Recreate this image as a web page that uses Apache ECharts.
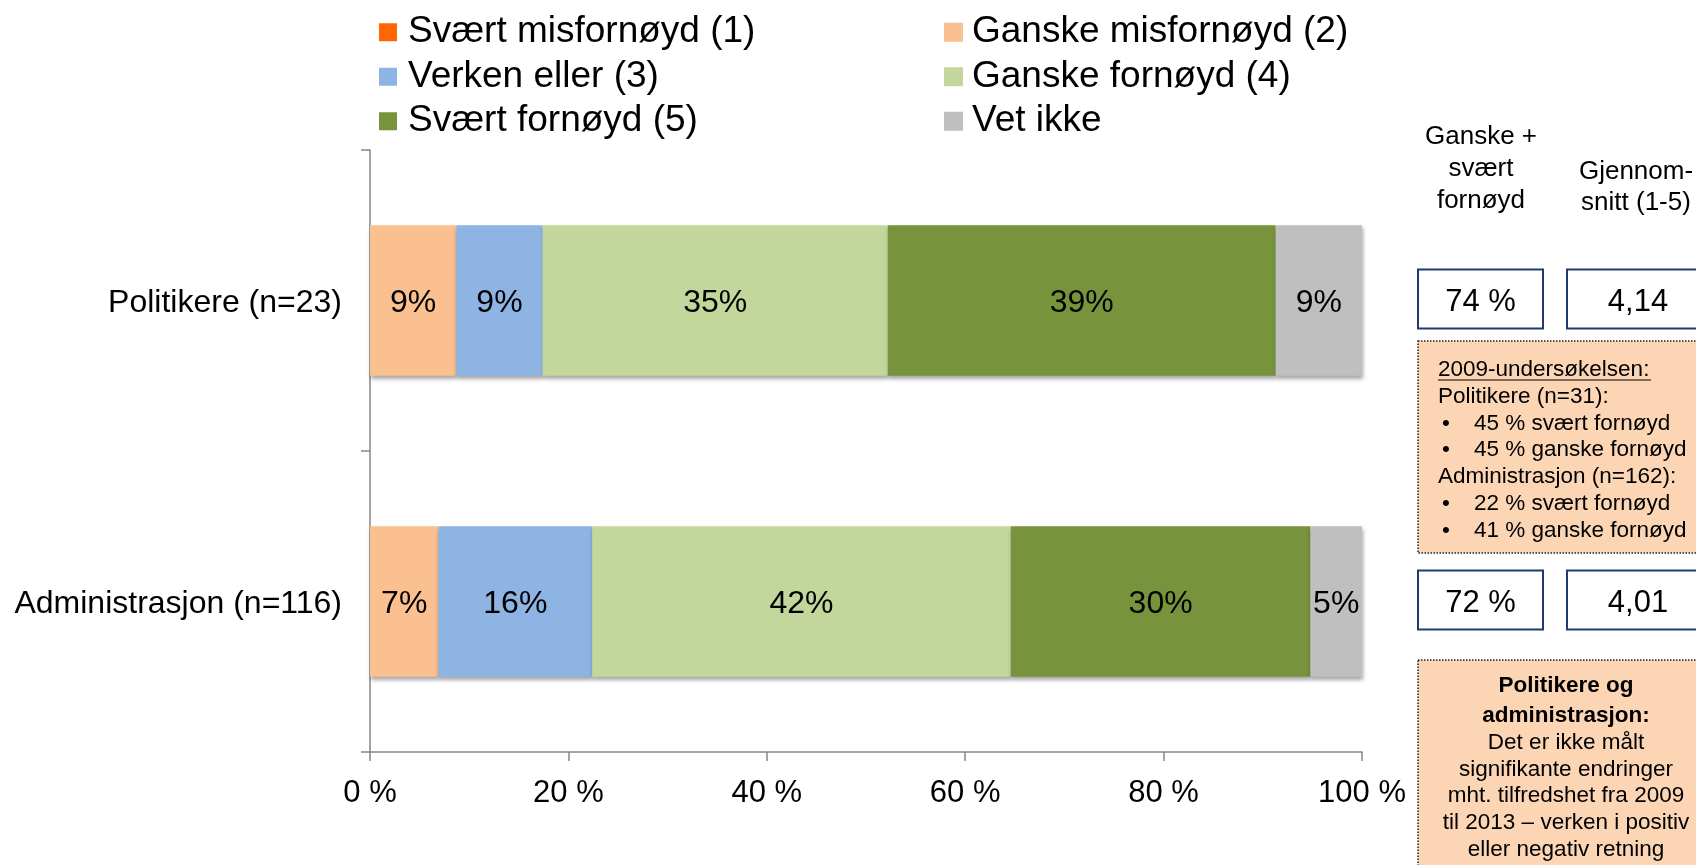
<!DOCTYPE html>
<html>
<head>
<meta charset="utf-8">
<script src="https://cdn.jsdelivr.net/npm/echarts@6/dist/echarts.min.js"></script>
<style>
html,body{margin:0;padding:0;background:#fff;}
#main{width:1696px;height:865px;}
</style>
</head>
<body>
<div id="main"></div>
<script>
const categories = ['Politikere (n=23)', 'Administrasjon (n=116)'];
const seriesNames = ['Svært misfornøyd (1)', 'Ganske misfornøyd (2)', 'Verken eller (3)', 'Ganske fornøyd (4)', 'Svært fornøyd (5)', 'Vet ikke'];
const svaertMisfornoyd = [0, 0];
const ganskeMisfornoyd = [8.7, 6.9];
const verkenEller = [8.7, 15.5];
const ganskeFornoyd = [34.8, 42.2];
const svaertFornoyd = [39.1, 30.2];
const vetIkke = [8.7, 5.2];
const xTicks = [0, 20, 40, 60, 80, 100];
const summaryPct = ['74 %', '72 %'];
const summaryMean = ['4,14', '4,01'];
const header1 = ['Ganske +', 'svært', 'fornøyd'];
const header2 = ['Gjennom-', 'snitt (1-5)'];
const note1Title = '2009-undersøkelsen:';
const note1Lines = [
  {b: false, t: 'Politikere (n=31):'},
  {b: true, t: '45 % svært fornøyd'},
  {b: true, t: '45 % ganske fornøyd'},
  {b: false, t: 'Administrasjon (n=162):'},
  {b: true, t: '22 % svært fornøyd'},
  {b: true, t: '41 % ganske fornøyd'}
];
const note2Bold = ['Politikere og', 'administrasjon:'];
const note2Lines = ['Det er ikke målt', 'signifikante endringer', 'mht. tilfredshet fra 2009', 'til 2013 – verken i positiv', 'eller negativ retning'];

const colors = ['#FF6600', '#FAC090', '#8EB4E3', '#C3D69B', '#77933C', '#BFBFBF'];
const allData = [svaertMisfornoyd, ganskeMisfornoyd, verkenEller, ganskeFornoyd, svaertFornoyd, vetIkke];
const FONT = '"Liberation Sans", Arial, sans-serif';

const chart = echarts.init(document.getElementById('main'), null, {renderer: 'canvas'});

const series = seriesNames.map((name, i) => ({
  name: name,
  type: 'bar',
  stack: 'total',
  barWidth: '50%',
  data: allData[i],
  itemStyle: {
    color: colors[i],
    shadowColor: 'rgba(0,0,0,0.35)',
    shadowBlur: 4,
    shadowOffsetX: 1,
    shadowOffsetY: 3
  },
  label: {
    show: true,
    position: 'inside',
    color: '#000',
    fontSize: 32,
    fontFamily: FONT,
    offset: [0, 3],
    formatter: p => p.value > 0 ? Math.round(p.value) + '%' : ''
  },
  emphasis: {disabled: true}
}));

const legendCommon = {
  orient: 'vertical',
  icon: 'rect',
  itemGap: 0,
  padding: 0,
  itemWidth: 18,
  itemHeight: 18,
  selectedMode: false
};
const legendText = pad => ({fontSize: 37, fontFamily: FONT, color: '#000', lineHeight: 44.5, padding: [0, 0, 0, pad]});

chart.setOption({
  animation: false,
  color: colors,
  legend: [
    Object.assign({}, legendCommon, {left: 379, top: 10, textStyle: legendText(6), data: [seriesNames[0], seriesNames[2], seriesNames[4]]}),
    Object.assign({}, legendCommon, {left: 944, top: 10, itemWidth: 19, itemHeight: 19, textStyle: legendText(4), data: [seriesNames[1], seriesNames[3], seriesNames[5]]})
  ],
  grid: {left: 370, right: 334, top: 150, bottom: 113, containLabel: false},
  xAxis: {
    type: 'value',
    min: 0, max: 100, interval: 20,
    axisLine: {show: true, lineStyle: {color: '#868686', width: 1.5}},
    axisTick: {show: true, length: 9, lineStyle: {color: '#868686', width: 1.5}},
    splitLine: {show: false},
    axisLabel: {
      fontSize: 31, fontFamily: FONT, color: '#000', margin: 26,
      formatter: v => xTicks.indexOf(v) >= 0 ? v + ' %' : ''
    }
  },
  yAxis: {
    type: 'category',
    inverse: true,
    data: categories,
    axisLine: {show: true, lineStyle: {color: '#868686', width: 1.5}},
    axisTick: {show: true, length: 9, lineStyle: {color: '#868686', width: 1.5}},
    axisLabel: {
      fontSize: 32, fontFamily: FONT, color: '#000', margin: 28,
      formatter: v => '{a|' + v + '}',
      rich: {a: {fontSize: 32, fontFamily: FONT, color: '#000', padding: [6, 0, 0, 0]}}
    }
  },
  series: series
});

// Right-hand panel, anchored on the category positions
const yPos = categories.map(c => chart.convertToPixel({yAxisIndex: 0}, c));
const graphics = [];
const DY = 3;
const txt = (x, y, text, opts) => ({
  type: 'text', x: x, y: y + DY,
  style: Object.assign({text: text, fontFamily: FONT, fill: '#000', fontSize: 22.5, align: 'left', verticalAlign: 'middle'}, opts || {})
});

header1.forEach((t, i) => graphics.push(txt(1481, 134 + i * 32, t, {fontSize: 26, align: 'center'})));
header2.forEach((t, i) => graphics.push(txt(1636, 169 + i * 31, t, {fontSize: 26, align: 'center'})));

categories.forEach((c, i) => {
  const cy = yPos[i];
  graphics.push({type: 'rect', shape: {x: 1418, y: cy - 31, width: 125, height: 59},
    style: {fill: '#fff', stroke: '#1F3A6E', lineWidth: 2}});
  graphics.push(txt(1480.5, cy - 1, summaryPct[i], {fontSize: 31, align: 'center'}));
  graphics.push({type: 'rect', shape: {x: 1567, y: cy - 31, width: 142, height: 59},
    style: {fill: '#fff', stroke: '#1F3A6E', lineWidth: 2}});
  graphics.push(txt(1638, cy - 1, summaryMean[i], {fontSize: 31, align: 'center'}));
});

// note box 1
graphics.push({type: 'rect', shape: {x: 1418, y: 341, width: 300, height: 212},
  style: {fill: '#FCD5B5', stroke: '#222', lineWidth: 1.5, lineDash: [1.5, 1.5]}});
graphics.push(txt(1438, 367, note1Title));
graphics.push({type: 'line', shape: {x1: 1438, y1: 380, x2: 1651, y2: 380}, style: {stroke: '#000', lineWidth: 1.2}});
note1Lines.forEach((l, i) => {
  const y = 393.5 + i * 26.8;
  if (l.b) {
    graphics.push(txt(1442, y, '•'));
    graphics.push(txt(1474, y, l.t));
  } else {
    graphics.push(txt(1438, y, l.t));
  }
});

// note box 2
graphics.push({type: 'rect', shape: {x: 1418, y: 660, width: 300, height: 220},
  style: {fill: '#FCD5B5', stroke: '#222', lineWidth: 1.5, lineDash: [1.5, 1.5]}});
note2Bold.forEach((t, i) => graphics.push(txt(1566, 683 + i * 29.5, t, {align: 'center', fontWeight: 'bold'})));
note2Lines.forEach((t, i) => graphics.push(txt(1566, 740 + i * 26.6, t, {align: 'center'})));

chart.setOption({graphic: graphics});
</script>
</body>
</html>
